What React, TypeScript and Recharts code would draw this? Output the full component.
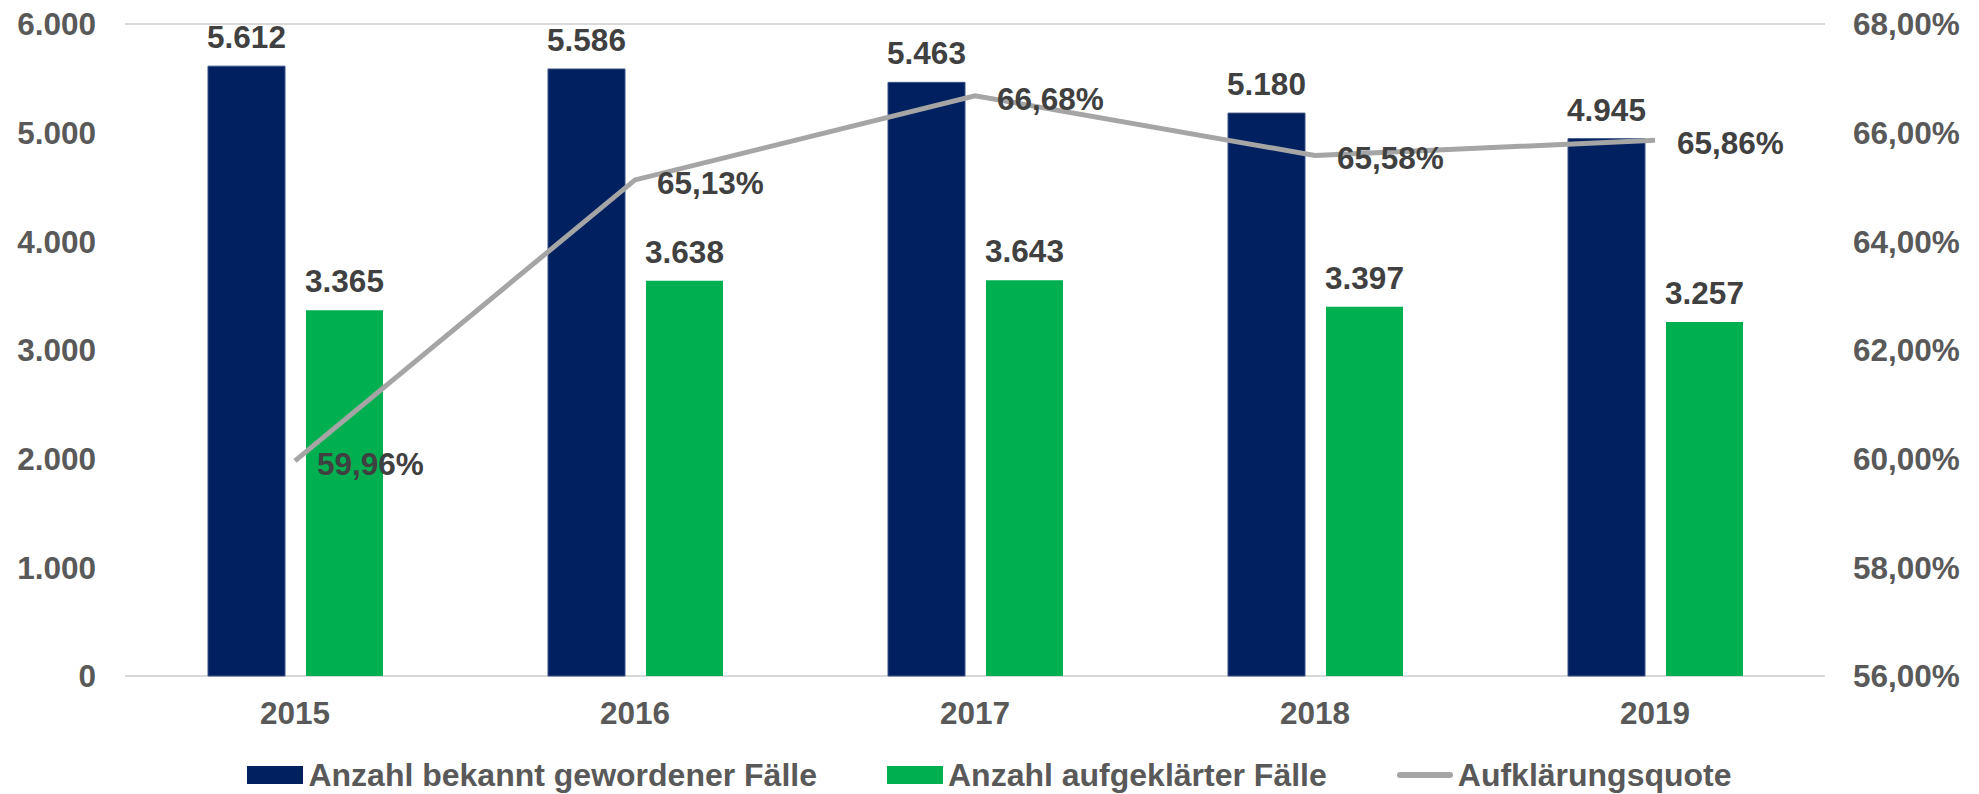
import { Bar, CartesianGrid, ComposedChart, LabelList, Legend, Line, XAxis, YAxis } from "recharts";

const years = ["2015", "2016", "2017", "2018", "2019"];
const bekannt = [5612, 5586, 5463, 5180, 4945];
const aufgeklaert = [3365, 3638, 3643, 3397, 3257];
const quote = [59.96, 65.13, 66.68, 65.58, 65.86];

const leftTicks = [0, 1000, 2000, 3000, 4000, 5000, 6000];
const rightTicks = [56, 58, 60, 62, 64, 66, 68];

const data = years.map((year, i) => ({
  year,
  bekannt: bekannt[i],
  aufgeklaert: aufgeklaert[i],
  quote: quote[i],
}));

const FONT = "'Liberation Sans', Arial, sans-serif";
const BLUE = "#002060";
const GREEN = "#00B050";
const GRAY = "#A5A5A5";

const fmtInt = (v: number) => String(v).replace(/\B(?=(\d{3})+(?!\d))/g, ".");
const fmtPct = (v: number) => v.toFixed(2).replace(".", ",") + "%";

const tickStyle = { fill: "#595959", fontSize: 31.5, fontWeight: 700, fontFamily: FONT };
const labelStyle = { fill: "#404040", fontSize: 31.5, fontWeight: 700, fontFamily: FONT };

const legendItems = [
  { label: "Anzahl bekannt gewordener Fälle", color: BLUE, type: "rect" },
  { label: "Anzahl aufgeklärter Fälle", color: GREEN, type: "rect" },
  { label: "Aufklärungsquote", color: GRAY, type: "line" },
];

function LegendContent() {
  return (
    <div
      style={{
        display: "flex",
        justifyContent: "center",
        alignItems: "center",
        gap: 70,
        height: 38,
        fontFamily: FONT,
        fontSize: 32,
        fontWeight: 700,
        color: "#595959",
      }}
    >
      {legendItems.map((item) => (
        <div key={item.label} style={{ display: "flex", alignItems: "center", gap: 5 }}>
          {item.type === "rect" ? (
            <div style={{ width: 56, height: 18, background: item.color }} />
          ) : (
            <div style={{ width: 56, height: 6, borderRadius: 3, background: item.color }} />
          )}
          <span>{item.label}</span>
        </div>
      ))}
    </div>
  );
}

function LineLabel(props: any) {
  const { x, y, value } = props;
  return (
    <text x={x + 22} y={y + 3} dominantBaseline="central" textAnchor="start" {...labelStyle}>
      {fmtPct(value)}
    </text>
  );
}

export default function App() {
  return (
    <div style={{ position: "absolute", left: 0, top: 0, background: "#fff" }}>
      <ComposedChart
        width={1979}
        height={794}
        data={data}
        margin={{ top: 24, right: 0, bottom: 0, left: 0 }}
        barCategoryGap={83}
        barGap={21}
      >
        <CartesianGrid vertical={false} stroke="#D9D9D9" strokeWidth={2} />
        <XAxis
          dataKey="year"
          axisLine={false}
          tickLine={false}
          tickSize={0}
          tickMargin={26}
          height={80}
          tick={tickStyle}
        />
        <YAxis
          yAxisId="left"
          domain={[0, 6000]}
          ticks={leftTicks}
          tickFormatter={fmtInt}
          axisLine={false}
          tickLine={false}
          tickSize={0}
          tickMargin={29}
          width={125}
          tick={tickStyle}
          interval={0}
        />
        <YAxis
          yAxisId="right"
          orientation="right"
          domain={[56, 68]}
          ticks={rightTicks}
          tickFormatter={fmtPct}
          axisLine={false}
          tickLine={false}
          tickSize={0}
          tickMargin={28}
          width={154}
          tick={{ ...tickStyle, textAnchor: "start" }}
          interval={0}
        />
        <Bar yAxisId="left" dataKey="bekannt" fill={BLUE} stroke="#3A5285" strokeWidth={1} isAnimationActive={false}>
          <LabelList dataKey="bekannt" position="top" offset={18} formatter={(v: any) => fmtInt(v)} style={labelStyle} />
        </Bar>
        <Bar yAxisId="left" dataKey="aufgeklaert" fill={GREEN} isAnimationActive={false}>
          <LabelList dataKey="aufgeklaert" position="top" offset={18} formatter={(v: any) => fmtInt(v)} style={labelStyle} />
        </Bar>
        <Line
          yAxisId="right"
          dataKey="quote"
          stroke={GRAY}
          strokeWidth={5}
          dot={false}
          activeDot={false}
          type="linear"
          isAnimationActive={false}
        >
          <LabelList dataKey="quote" content={LineLabel} />
        </Line>
        <Legend verticalAlign="bottom" content={LegendContent} wrapperStyle={{ height: 38 }} />
      </ComposedChart>
    </div>
  );
}
